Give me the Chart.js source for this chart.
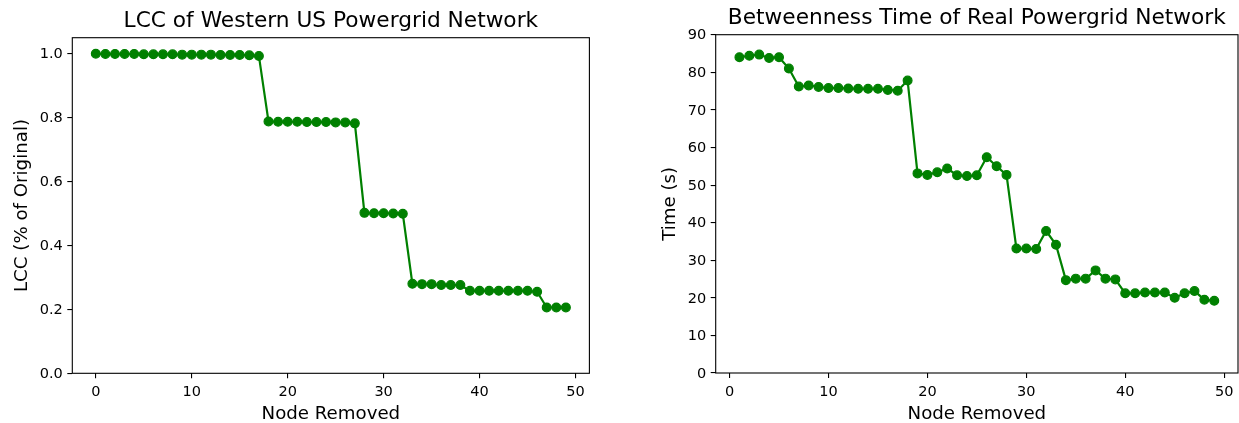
<!DOCTYPE html>
<html>
<head>
<meta charset="utf-8">
<script src="https://cdn.jsdelivr.net/npm/chart.js@4/dist/chart.umd.min.js"></script>
<style>
html,body{margin:0;padding:0;background:#ffffff;}
#wrap{position:relative;width:1239px;height:423px;overflow:hidden;background:#fff;}
canvas{position:absolute;top:0;}
</style>
</head>
<body>
<div id="wrap">
<canvas id="c1" width="620" height="423" style="left:0px"></canvas>
<canvas id="c2" width="619" height="423" style="left:620px"></canvas>
</div>
<script>
// ---- data ----
const lccNodes = [0,1,2,3,4,5,6,7,8,9,10,11,12,13,14,15,16,17,18,19,20,21,22,23,24,25,26,27,28,29,30,31,32,33,34,35,36,37,38,39,40,41,42,43,44,45,46,47,48,49];
const lccValues = [1.000,0.999,0.999,0.999,0.999,0.998,0.998,0.998,0.998,0.997,0.997,0.997,0.997,0.996,0.996,0.996,0.995,0.993,
  0.788,0.787,0.787,0.787,0.786,0.786,0.786,0.785,0.785,0.782,
  0.502,0.501,0.501,0.500,0.499,
  0.280,0.279,0.279,0.276,0.276,0.276,
  0.258,0.258,0.258,0.258,0.258,0.258,0.258,0.255,
  0.206,0.206,0.206];
const timeNodes = [1,2,3,4,5,6,7,8,9,10,11,12,13,14,15,16,17,18,19,20,21,22,23,24,25,26,27,28,29,30,31,32,33,34,35,36,37,38,39,40,41,42,43,44,45,46,47,48,49];
const timeValues = [84.0,84.4,84.7,83.8,84.0,81.0,76.2,76.5,76.1,75.8,75.8,75.7,75.6,75.6,75.6,75.3,75.1,77.8,
  53.1,52.7,53.4,54.4,52.6,52.4,52.6,57.4,55.0,52.7,
  33.1,33.1,33.0,37.8,34.1,
  24.7,25.1,25.1,27.3,25.1,24.9,
  21.2,21.2,21.4,21.4,21.4,20.0,21.2,21.8,19.5,19.2];
const xTicks = [0,10,20,30,40,50];
const lccTicks = [0,0.2,0.4,0.6,0.8,1.0];
const timeTicks = [0,10,20,30,40,50,60,70,80,90];

const lccTitle = 'LCC of Western US Powergrid Network';
const timeTitle = 'Betweenness Time of Real Powergrid Network';
const xLabel = 'Node Removed';
const lccYLabel = 'LCC (% of Original)';
const timeYLabel = 'Time (s)';

// ---- style ----
const FAMILY = '"DejaVu Sans", "Liberation Sans", sans-serif';
const GREEN = '#008000';

const framePlugin = {
  id: 'frame',
  afterDatasetsDraw(chart) {
    const a = chart.chartArea;
    const ctx = chart.ctx;
    ctx.save();
    ctx.strokeStyle = '#000';
    ctx.lineWidth = 1.1;
    ctx.strokeRect(a.left, a.top, a.right - a.left, a.bottom - a.top);
    ctx.restore();
  }
};

function makeChart(canvas, cfg) {
  const pts = cfg.xs.map((x, i) => ({x: x, y: cfg.ys[i]}));
  return new Chart(canvas, {
    type: 'line',
    data: {
      datasets: [{
        data: pts,
        borderColor: GREEN,
        backgroundColor: GREEN,
        borderWidth: 2.2,
        pointRadius: 4.4,
        pointHoverRadius: 4.4,
        pointBorderWidth: 1.2,
        pointBorderColor: GREEN,
        pointBackgroundColor: GREEN,
        tension: 0,
        fill: false,
        clip: false
      }]
    },
    options: {
      responsive: false,
      animation: false,
      devicePixelRatio: 1,
      events: [],
      layout: {autoPadding: false, padding: {left: 0, right: cfg.padRight, top: 0, bottom: 0}},
      plugins: {
        legend: {display: false},
        tooltip: {enabled: false},
        title: {
          display: true,
          text: cfg.title,
          fullSize: false,
          color: '#000',
          font: {family: FAMILY, size: 21.7, weight: 'normal', lineHeight: 1.2},
          padding: {top: cfg.titleTop, bottom: cfg.titleBottom}
        }
      },
      scales: {
        x: {
          type: 'linear',
          position: 'bottom',
          min: cfg.xMin,
          max: cfg.xMax,
          afterBuildTicks: s => { s.ticks = xTicks.map(v => ({value: v})); },
          afterFit: s => { s.height = cfg.xHeight; s.paddingLeft = 0; s.paddingRight = 0; s.paddingTop = 0; s.paddingBottom = 0; },
          ticks: {
            autoSkip: false, maxRotation: 0, minRotation: 0,
            color: '#000', padding: 5.5,
            font: {family: FAMILY, size: 14.5, lineHeight: 1.2},
            callback: v => String(v)
          },
          grid: {drawOnChartArea: false, drawTicks: true, tickLength: 5, color: '#000', lineWidth: 1.1},
          border: {display: false},
          title: {
            display: true, text: xLabel, color: '#000',
            font: {family: FAMILY, size: 18.2, lineHeight: 1},
            padding: {top: 0, bottom: 0}
          }
        },
        y: {
          type: 'linear',
          position: 'left',
          min: cfg.yMin,
          max: cfg.yMax,
          afterBuildTicks: s => { s.ticks = cfg.yTicks.map(v => ({value: v})); },
          afterFit: s => { s.width = cfg.yWidth; s.paddingLeft = 0; s.paddingRight = 0; s.paddingTop = 0; s.paddingBottom = 0; },
          ticks: {
            autoSkip: false, color: '#000', padding: 4.5, labelOffset: 1,
            font: {family: FAMILY, size: 14.5, lineHeight: 1.2},
            callback: cfg.yFmt
          },
          grid: {drawOnChartArea: false, drawTicks: true, tickLength: 5, color: '#000', lineWidth: 1.1},
          border: {display: false},
          title: {
            display: true, text: cfg.yLabel, color: '#000',
            font: {family: FAMILY, size: 18.2, lineHeight: 1},
            padding: {top: cfg.yTitlePad, bottom: 0}
          }
        }
      }
    },
    plugins: [framePlugin]
  });
}

makeChart(document.getElementById('c1'), {
  xs: lccNodes, ys: lccValues,
  title: lccTitle, yLabel: lccYLabel,
  xMin: -2.45, xMax: 51.45, yMin: 0, yMax: 1.05,
  yTicks: lccTicks, yFmt: v => Number(v).toFixed(1),
  padRight: 30.6, yWidth: 72.3, xHeight: 49.7,
  titleTop: 8.5, titleBottom: 3.16, yTitlePad: 13.3
});

makeChart(document.getElementById('c2'), {
  xs: timeNodes, ys: timeValues,
  title: timeTitle, yLabel: timeYLabel,
  xMin: -1.4, xMax: 51.4, yMin: 0, yMax: 90,
  yTicks: timeTicks, yFmt: v => String(Math.round(v)),
  padRight: 1, yWidth: 95.7, xHeight: 50,
  titleTop: 5.8, titleBottom: 2.86, yTitlePad: 41.6
});
</script>
</body>
</html>
